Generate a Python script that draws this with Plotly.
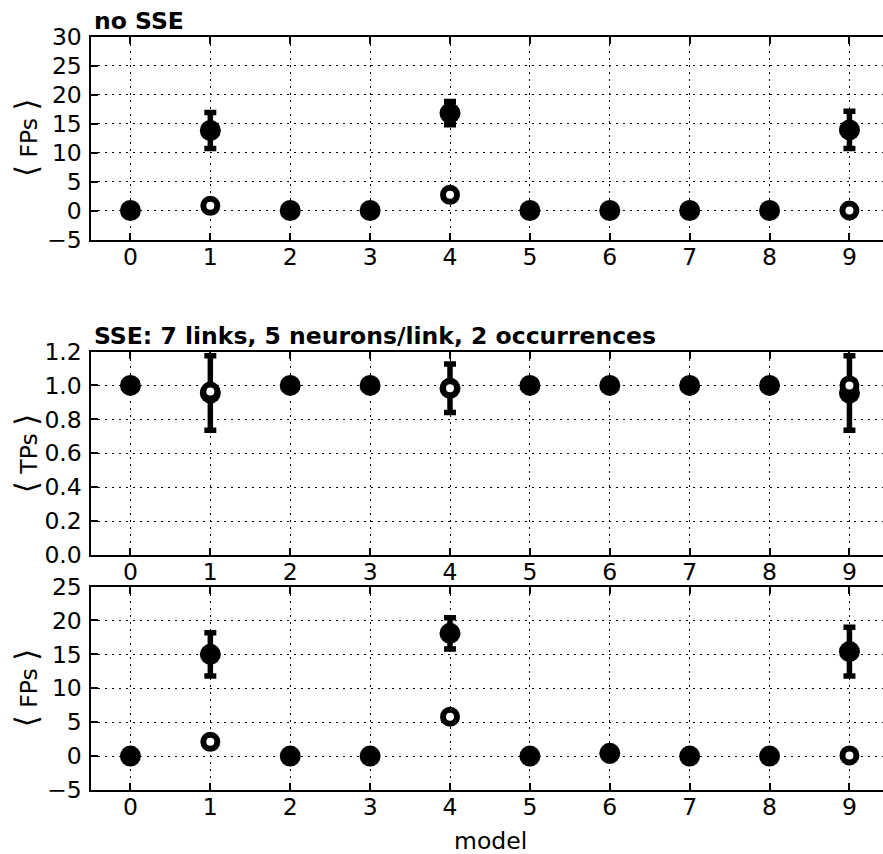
import plotly.graph_objects as go

# ---------------- data ----------------
models = [0, 1, 2, 3, 4, 5, 6, 7, 8, 9]
x_ticks = [0, 1, 2, 3, 4, 5, 6, 7, 8, 9]

# panel 1: no SSE, false positives
fp_nosse_mean = [0, 13.8, 0, 0, 16.8, 0, 0, 0, 0, 13.9]
fp_nosse_err = [0, 3.1, 0, 0, 2.0, 0, 0, 0, 0, 3.2]
fp_nosse_open = [None, 0.8, None, None, 2.7, None, None, None, None, 0.0]

# panel 2: SSE, true positives
tp_sse_mean = [1.0, 0.955, 1.0, 1.0, 0.983, 1.0, 1.0, 1.0, 1.0, 0.955]
tp_sse_err = [0, 0.22, 0, 0, 0.143, 0, 0, 0, 0, 0.22]
tp_sse_open = [None, 0.964, None, None, 0.984, None, None, None, None, 1.0]

# panel 3: SSE, false positives
fp_sse_mean = [0, 15.0, 0, 0, 18.1, 0, 0.4, 0, 0, 15.4]
fp_sse_err = [0, 3.2, 0, 0, 2.3, 0, 0, 0, 0, 3.6]
fp_sse_open = [None, 2.1, None, None, 5.8, None, None, None, None, 0.1]

y1_ticks = [-5, 0, 5, 10, 15, 20, 25, 30]
y2_ticks = [0.0, 0.2, 0.4, 0.6, 0.8, 1.0, 1.2]
y3_ticks = [-5, 0, 5, 10, 15, 20, 25]

title1 = "no SSE"
title2 = "SSE: 7 links, 5 neurons/link, 2 occurrences"
ylab_fp = "FPs"
ylab_tp = "TPs"
xlab = "model"

# ---------------- figure ----------------
W, H = 883, 854
FONT = "DejaVu Sans"
FS = 23.5
fig = go.Figure()

panels = [
    (fp_nosse_mean, fp_nosse_err, fp_nosse_open, "x", "y"),
    (tp_sse_mean, tp_sse_err, tp_sse_open, "x2", "y2"),
    (fp_sse_mean, fp_sse_err, fp_sse_open, "x3", "y3"),
]
for mean, err, opn, xa, ya in panels:
    fig.add_trace(go.Scatter(
        x=models, y=mean, mode="markers", xaxis=xa, yaxis=ya,
        marker=dict(color="black", size=21, line=dict(width=0)),
        error_y=dict(type="data", array=err, color="black", thickness=5.5, width=6),
        showlegend=False, cliponaxis=False, hoverinfo="skip"))
    fig.add_trace(go.Scatter(
        x=models, y=opn, mode="markers", xaxis=xa, yaxis=ya,
        marker=dict(color="white", size=14, line=dict(width=6, color="black")),
        showlegend=False, cliponaxis=False, hoverinfo="skip"))

left = 90.5 / W
px_per_unit = (849 - 130) / 9.0
xmax = -0.5 + (W - 90.5) / px_per_unit

def ydom(top_px, bot_px):
    return [1 - bot_px / H, 1 - top_px / H]

common_x = dict(
    range=[-0.5, xmax], tickvals=x_ticks, ticktext=[str(v) for v in x_ticks],
    showgrid=True, gridcolor="black", gridwidth=1, griddash="2px,5px",
    showline=True, linecolor="black", linewidth=2, mirror="ticks",
    ticks="inside", ticklen=7, tickwidth=1.5, tickcolor="black",
    tickfont=dict(family=FONT, size=FS, color="black"),
    zeroline=False, fixedrange=True, automargin=False, ticklabelstandoff=-5,
)
common_y = dict(
    showgrid=True, gridcolor="black", gridwidth=1, griddash="2px,5px",
    showline=True, linecolor="black", linewidth=2, mirror=False,
    ticks="inside", ticklen=7, tickwidth=1.5, tickcolor="black",
    tickfont=dict(family=FONT, size=FS, color="black"),
    zeroline=False, fixedrange=True, ticklabelstandoff=2, automargin=False,
)

doms = [ydom(36.5, 239.5), ydom(351.5, 555), ydom(586.5, 790)]

fig.update_layout(
    width=W, height=H, margin=dict(l=0, r=0, t=0, b=0, pad=0, autoexpand=False),
    paper_bgcolor="white", plot_bgcolor="white",
    font=dict(family=FONT, color="black"),
    xaxis=dict(common_x, domain=[left, 1], anchor="y"),
    xaxis2=dict(common_x, domain=[left, 1], anchor="y2"),
    xaxis3=dict(common_x, domain=[left, 1], anchor="y3"),
    yaxis=dict(common_y, domain=doms[0], anchor="x", range=[-5, 30],
               tickvals=y1_ticks, ticktext=[str(v).replace("-", "−") for v in y1_ticks]),
    yaxis2=dict(common_y, domain=doms[1], anchor="x2", range=[0, 1.2],
                tickvals=y2_ticks, ticktext=["%.1f" % v for v in y2_ticks]),
    yaxis3=dict(common_y, domain=doms[2], anchor="x3", range=[-5, 25],
                tickvals=y3_ticks, ticktext=[str(v).replace("-", "−") for v in y3_ticks]),
)

def bracket_label(s):
    b = "<span style='font-size:31px'>%s</span>"
    return (b % "⟨") + " " + s + " " + (b % "⟩")

ann = []
ann.append(dict(text="<b>%s</b>" % title1, x=left + 1.5 / W, y=doms[0][1], xref="paper", yref="paper",
                xanchor="left", yanchor="bottom", yshift=-1, showarrow=False,
                font=dict(family=FONT, size=FS, color="black")))
ann.append(dict(text="<b>%s</b>" % title2, x=left + 1.5 / W, y=doms[1][1], xref="paper", yref="paper",
                xanchor="left", yanchor="bottom", yshift=-1, showarrow=False,
                font=dict(family=FONT, size=FS, color="black")))
for lab, d in [(ylab_fp, doms[0]), (ylab_tp, doms[1]), (ylab_fp, doms[2])]:
    ann.append(dict(text=bracket_label(lab), x=26 / W, y=(d[0] + d[1]) / 2, xref="paper", yref="paper",
                    xanchor="center", yanchor="middle", textangle=-90, showarrow=False,
                    font=dict(family=FONT, size=FS, color="black")))
ann.append(dict(text=xlab, x=491 / W, y=1 - 841 / H, xref="paper", yref="paper",
                xanchor="center", yanchor="middle", showarrow=False,
                font=dict(family=FONT, size=FS, color="black")))
fig.update_layout(annotations=ann)

fig.write_html("out.html", config={"displayModeBar": False},
               post_script="document.body.style.margin='0';document.body.style.overflow='hidden';")
